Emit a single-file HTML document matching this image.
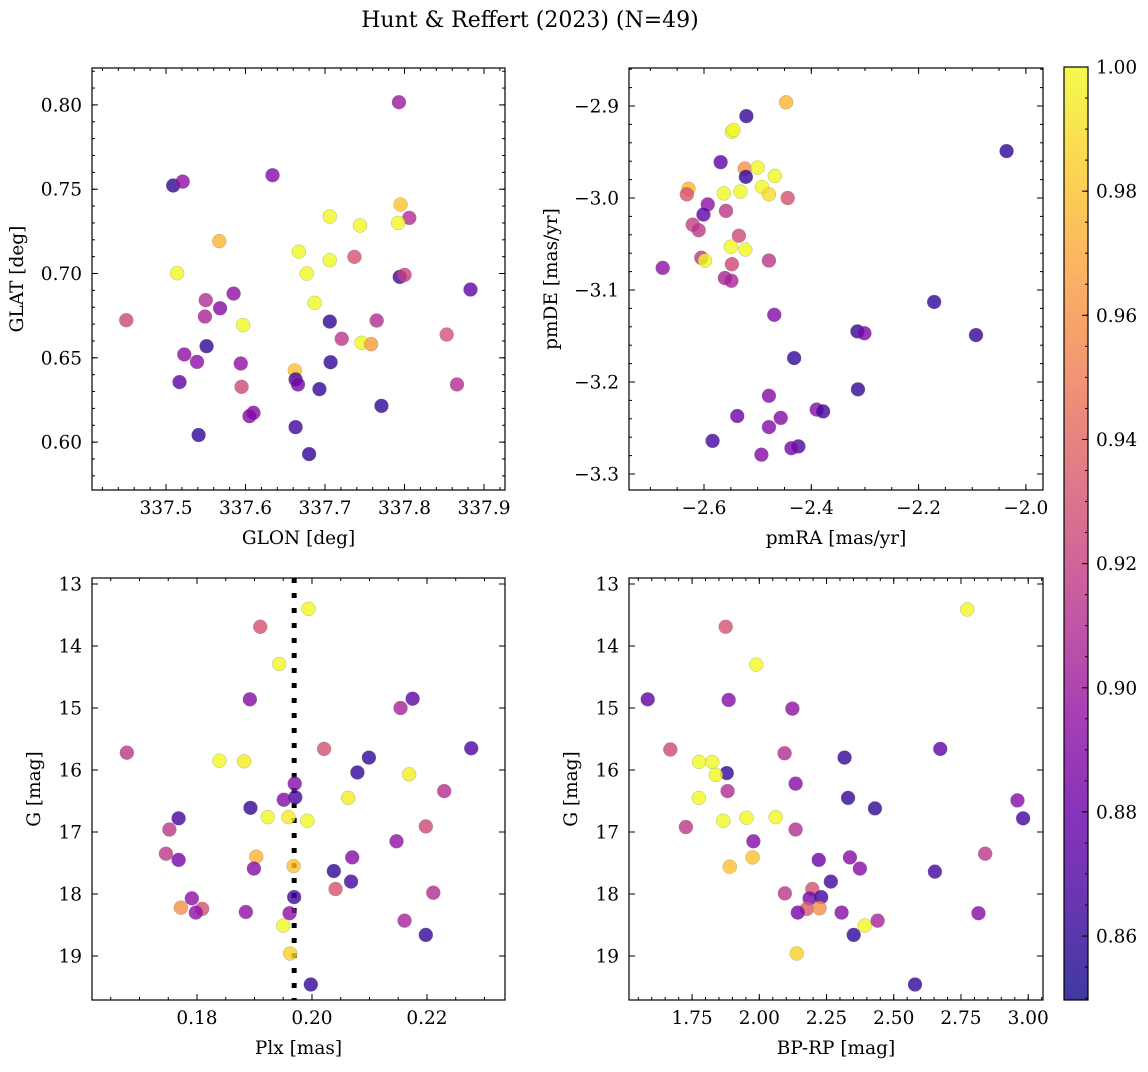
<!DOCTYPE html>
<html><head><meta charset="utf-8">
<style>
html,body{margin:0;padding:0;background:#fff;}
svg text{font-family:"DejaVu Serif","Liberation Serif",serif;fill:#000;}
</style></head>
<body>
<svg id="fig" xmlns="http://www.w3.org/2000/svg" width="1148" height="1067" viewBox="0 0 1148 1067">
<rect x="0" y="0" width="1148" height="1067" fill="#fff"/>
<text x="530" y="27" font-size="22" text-anchor="middle">Hunt &amp; Reffert (2023) (N=49)</text>
</svg>
<script>
// ---- Panel 1: GLON / GLAT ----
const tlGlon=[337.793,337.509,337.521,337.634,337.795,337.806,337.706,337.744,337.792,337.567,337.667,337.706,337.737,337.514,337.677,337.794,337.800,337.883,337.550,337.585,337.568,337.549,337.687,337.450,337.597,337.706,337.765,337.721,337.746,337.758,337.853,337.551,337.523,337.539,337.594,337.707,337.662,337.663,337.666,337.517,337.595,337.693,337.866,337.771,337.610,337.605,337.663,337.541,337.680];
const tlGlat=[0.8016,0.7522,0.7545,0.7583,0.7409,0.7330,0.7338,0.7285,0.7300,0.7192,0.7130,0.7079,0.7099,0.7002,0.7000,0.6980,0.6992,0.6905,0.6842,0.6881,0.6794,0.6745,0.6826,0.6723,0.6694,0.6715,0.6721,0.6613,0.6589,0.6581,0.6638,0.6569,0.6520,0.6476,0.6466,0.6474,0.6425,0.6372,0.6342,0.6356,0.6328,0.6314,0.6342,0.6215,0.6174,0.6154,0.6089,0.6042,0.5929];
const tlProb=[0.90,0.86,0.895,0.89,0.98,0.91,1.0,1.0,1.0,0.975,1.0,1.0,0.93,1.0,1.0,0.865,0.92,0.875,0.91,0.895,0.89,0.905,1.0,0.925,1.0,0.86,0.91,0.915,1.0,0.965,0.93,0.86,0.895,0.895,0.895,0.86,0.98,0.865,0.885,0.875,0.925,0.86,0.91,0.86,0.89,0.89,0.865,0.86,0.86];
// ---- Panel 2: pmRA / pmDE ----
const trPmra=[-2.447,-2.521,-2.548,-2.545,-2.036,-2.569,-2.524,-2.500,-2.522,-2.468,-2.629,-2.632,-2.563,-2.532,-2.492,-2.479,-2.444,-2.593,-2.601,-2.559,-2.621,-2.610,-2.535,-2.550,-2.523,-2.605,-2.598,-2.548,-2.479,-2.677,-2.561,-2.549,-2.171,-2.469,-2.314,-2.301,-2.093,-2.432,-2.313,-2.479,-2.390,-2.378,-2.538,-2.457,-2.479,-2.584,-2.424,-2.437,-2.493];
const trPmde=[-2.896,-2.911,-2.928,-2.926,-2.949,-2.961,-2.968,-2.967,-2.977,-2.976,-2.990,-2.996,-2.995,-2.993,-2.988,-2.996,-3.000,-3.007,-3.018,-3.014,-3.029,-3.035,-3.041,-3.053,-3.056,-3.065,-3.068,-3.072,-3.068,-3.076,-3.087,-3.090,-3.113,-3.127,-3.145,-3.147,-3.149,-3.174,-3.208,-3.215,-3.230,-3.232,-3.237,-3.239,-3.249,-3.264,-3.270,-3.272,-3.279];
const trProb=[0.975,0.86,1.0,1.0,0.86,0.875,0.96,1.0,0.86,1.0,0.975,0.93,1.0,1.0,1.0,0.99,0.93,0.895,0.875,0.915,0.92,0.915,0.925,1.0,1.0,0.915,1.0,0.925,0.915,0.895,0.905,0.905,0.86,0.89,0.86,0.885,0.86,0.86,0.86,0.89,0.89,0.865,0.88,0.89,0.89,0.865,0.87,0.885,0.89];
// ---- Panel 3: Plx / G ----
const blPlx=[0.1994,0.1910,0.1943,0.1892,0.2175,0.2154,0.1678,0.1839,0.1882,0.2021,0.2099,0.2277,0.2079,0.2169,0.1970,0.2230,0.1971,0.1951,0.2063,0.1893,0.1923,0.1959,0.1992,0.1768,0.1752,0.2198,0.2147,0.1746,0.1768,0.1903,0.2070,0.1968,0.1899,0.2038,0.2068,0.2041,0.2211,0.1969,0.1791,0.1772,0.1809,0.1798,0.1885,0.1961,0.1950,0.2161,0.2198,0.1962,0.1998];
const blG=[13.40,13.69,14.29,14.86,14.85,15.00,15.72,15.85,15.86,15.66,15.80,15.65,16.04,16.07,16.22,16.34,16.44,16.48,16.45,16.61,16.76,16.76,16.82,16.78,16.96,16.91,17.15,17.35,17.45,17.40,17.41,17.55,17.59,17.63,17.80,17.92,17.98,18.05,18.07,18.22,18.24,18.30,18.29,18.31,18.51,18.43,18.66,18.96,19.46];
const blProb=[1.0,0.93,1.0,0.89,0.875,0.905,0.915,1.0,0.995,0.93,0.86,0.87,0.86,0.995,0.89,0.91,0.865,0.89,0.995,0.86,1.0,0.995,1.0,0.865,0.915,0.925,0.895,0.915,0.885,0.975,0.89,0.98,0.89,0.86,0.865,0.93,0.91,0.865,0.895,0.96,0.93,0.895,0.895,0.895,1.0,0.905,0.86,0.985,0.86];
const plxRef=[0.1969];
// ---- Panel 4: BP-RP / G ----
const brColor=[2.773,1.875,1.989,1.585,1.886,2.123,1.669,2.094,2.317,2.673,1.776,1.825,1.879,1.838,2.135,1.882,1.775,2.330,2.430,2.960,2.981,1.866,1.952,2.061,1.727,2.135,1.978,2.840,1.975,2.221,2.337,1.890,2.374,2.653,2.266,2.095,2.197,2.187,2.230,2.177,2.224,2.143,2.306,2.815,2.392,2.440,2.351,2.139,2.579];
const brG=[13.41,13.69,14.30,14.86,14.87,15.01,15.67,15.73,15.80,15.66,15.87,15.87,16.05,16.08,16.22,16.34,16.45,16.45,16.62,16.49,16.78,16.82,16.77,16.76,16.92,16.96,17.15,17.35,17.41,17.45,17.41,17.56,17.59,17.64,17.80,17.99,17.92,18.07,18.05,18.24,18.23,18.30,18.30,18.31,18.51,18.43,18.66,18.96,19.46];
const brProb=[1.0,0.93,1.0,0.875,0.89,0.895,0.925,0.91,0.86,0.875,1.0,1.0,0.86,1.0,0.89,0.91,1.0,0.86,0.86,0.89,0.865,1.0,1.0,1.0,0.915,0.91,0.89,0.915,0.98,0.88,0.89,0.98,0.89,0.865,0.865,0.915,0.93,0.885,0.865,0.935,0.96,0.885,0.89,0.89,1.0,0.905,0.86,0.985,0.86];
// tick labels
const tlXTicks=[337.5,337.6,337.7,337.8,337.9];
const tlXLabels=["337.5","337.6","337.7","337.8","337.9"];
const tlYTicks=[0.60,0.65,0.70,0.75,0.80];
const tlYLabels=["0.60","0.65","0.70","0.75","0.80"];
const trXTicks=[-2.6,-2.4,-2.2,-2.0];
const trXLabels=["\u22122.6","\u22122.4","\u22122.2","\u22122.0"];
const trYTicks=[-3.3,-3.2,-3.1,-3.0,-2.9];
const trYLabels=["\u22123.3","\u22123.2","\u22123.1","\u22123.0","\u22122.9"];
const blXTicks=[0.18,0.20,0.22];
const blXLabels=["0.18","0.20","0.22"];
const gTicks=[13,14,15,16,17,18,19];
const gLabels=["13","14","15","16","17","18","19"];
const brXTicks=[1.75,2.00,2.25,2.50,2.75,3.00];
const brXLabels=["1.75","2.00","2.25","2.50","2.75","3.00"];
const cbTicks=[0.86,0.88,0.90,0.92,0.94,0.96,0.98,1.00];
const cbLabels=["0.86","0.88","0.90","0.92","0.94","0.96","0.98","1.00"];

const NS="http://www.w3.org/2000/svg";
const svg=document.getElementById('fig');
const VMIN=0.8497,VMAX=1.0;
const FS=18.5;
const plasma=[[13,8,135],[65,4,157],[106,0,168],[143,13,164],[177,42,144],[204,71,120],[225,100,98],[242,132,75],[252,166,54],[252,206,37],[240,249,33]];
function cmap(v){let t=(v-VMIN)/(VMAX-VMIN);t=Math.max(0,Math.min(1,t));const f=t*10;const i=Math.min(9,Math.floor(f));const u=f-i;const a=plasma[i],b=plasma[i+1];return 'rgb('+[0,1,2].map(k=>Math.round(a[k]+(b[k]-a[k])*u)).join(',')+')';}
function mk(tag,attrs,parent){const e=document.createElementNS(NS,tag);for(const k in attrs)e.setAttribute(k,attrs[k]);(parent||svg).appendChild(e);return e;}
function scale(d0,d1,r0,r1){return v=>r0+(v-d0)/(d1-d0)*(r1-r0);}

function panel(o){
  const g=mk('g',{});
  
  
  const sx=scale(o.xmin,o.xmax,o.L,o.R), sy=scale(o.ymin,o.ymax,o.B,o.T);
  const mg=mk('g',{stroke:'#000','stroke-width':1},g);
  
  
  for(let v=Math.ceil(o.xmin/o.xminor)*o.xminor;v<=o.xmax+1e-9;v+=o.xminor){const x=sx(v);mk('line',{x1:x,x2:x,y1:o.B,y2:o.B-3},mg);mk('line',{x1:x,x2:x,y1:o.T,y2:o.T+3},mg);}
  for(let v=Math.ceil(o.ymin/o.yminor)*o.yminor;v<=o.ymax+1e-9;v+=o.yminor){const y=sy(v);mk('line',{x1:o.L,x2:o.L+3,y1:y,y2:y},mg);mk('line',{x1:o.R,x2:o.R-3,y1:y,y2:y},mg);}
  o.xt.forEach((v,i)=>{const x=sx(v);mk('line',{x1:x,x2:x,y1:o.B,y2:o.B-6},mg);mk('line',{x1:x,x2:x,y1:o.T,y2:o.T+6},mg);
    const t=mk('text',{x:x,y:o.B+24,'font-size':FS,'text-anchor':'middle'},g);t.textContent=o.xl[i];
    
    });
  o.yt.forEach((v,i)=>{const y=sy(v);mk('line',{x1:o.L,x2:o.L+6,y1:y,y2:y},mg);mk('line',{x1:o.R,x2:o.R-6,y1:y,y2:y},mg);
    const t=mk('text',{x:o.L-10,y:y+6.5,'font-size':FS,'text-anchor':'end'},g);t.textContent=o.yl[i];
    
    });
  if(o.vline){o.vline.forEach(v=>{const l=mk('line',{x1:sx(v),x2:sx(v),y1:o.T,y2:o.B,stroke:'#000','stroke-width':5,'stroke-dasharray':'5,10'},g);
    
    });}
  const pg=mk('g',{},g);
  
  
  o.xs.forEach((xv,i)=>{const c=mk('circle',{cx:sx(xv),cy:sy(o.ys[i]),r:7,fill:cmap(o.ps[i]),'fill-opacity':0.8,stroke:'#777','stroke-opacity':0.5,'stroke-width':0.5},pg);
    
    });
  const fr=mk('rect',{x:o.L,y:o.T,width:o.R-o.L,height:o.B-o.T,fill:'none',stroke:'#000','stroke-width':1.2},g);
  
  
  const xl=mk('text',{x:(o.L+o.R)/2,y:o.B+54,'font-size':FS,'text-anchor':'middle'},g);xl.textContent=o.xlabel;
  
  
  const cy=(o.T+o.B)/2;
  const yl=mk('text',{x:o.ylx,y:cy,'font-size':FS,'text-anchor':'middle',transform:'rotate(-90 '+o.ylx+' '+cy+')'},g);yl.textContent=o.ylabel;
  
  
}
panel({name:'glon-glat-panel',L:92,R:505,T:68,B:490,xmin:337.4069,xmax:337.9264,ymin:0.5716,ymax:0.8219,xminor:0.02,yminor:0.01,xt:tlXTicks,xl:tlXLabels,yt:tlYTicks,yl:tlYLabels,xs:tlGlon,ys:tlGlat,ps:tlProb,xlabel:'GLON [deg]',ylabel:'GLAT [deg]',ylx:23});
panel({name:'proper-motion-panel',L:629,R:1043,T:68,B:490,xmin:-2.7398,xmax:-1.9681,ymin:-3.3174,ymax:-2.8587,xminor:0.05,yminor:0.02,xt:trXTicks,xl:trXLabels,yt:trYTicks,yl:trYLabels,xs:trPmra,ys:trPmde,ps:trProb,xlabel:'pmRA [mas/yr]',ylabel:'pmDE [mas/yr]',ylx:557});
panel({name:'parallax-magnitude-panel',L:92,R:505,T:578,B:1000,xmin:0.16174,xmax:0.23357,ymin:19.71,ymax:12.903,xminor:0.005,yminor:0.2,xt:blXTicks,xl:blXLabels,yt:gTicks,yl:gLabels,xs:blPlx,ys:blG,ps:blProb,xlabel:'Plx [mas]',ylabel:'G [mag]',ylx:40,vline:plxRef});
panel({name:'color-magnitude-panel',L:629,R:1043,T:578,B:1000,xmin:1.5154,xmax:3.0550,ymin:19.71,ymax:12.903,xminor:0.05,yminor:0.2,xt:brXTicks,xl:brXLabels,yt:gTicks,yl:gLabels,xs:brColor,ys:brG,ps:brProb,xlabel:'BP-RP [mag]',ylabel:'G [mag]',ylx:577});

// colorbar
(function(){
  const L=1064,R=1088,T=67,B=1000;
  const g=mk('g',{});
  
  
  const defs=mk('defs',{},g);
  const lg=mk('linearGradient',{id:'plg',x1:0,y1:1,x2:0,y2:0},defs);
  plasma.forEach((c,i)=>mk('stop',{offset:(i/10),'stop-color':'rgb('+c.join(',')+')','stop-opacity':0.8},lg));
  mk('rect',{x:L,y:T,width:R-L,height:B-T,fill:'#fff'},g);
  const r=mk('rect',{x:L,y:T,width:R-L,height:B-T,fill:'url(#plg)',stroke:'#000','stroke-width':1.2},g);
  
  
  const sy=scale(VMIN,VMAX,B,T);
  for(let v=0.85;v<=1.0001;v+=0.005){const y=sy(v);mk('line',{x1:R,x2:R-3,y1:y,y2:y,stroke:'#000'},g);}
  cbTicks.forEach((v,i)=>{const y=sy(v);mk('line',{x1:R,x2:R-6,y1:y,y2:y,stroke:'#000'},g);
    const t=mk('text',{x:R+8,y:y+6.5,'font-size':FS},g);t.textContent=cbLabels[i];
    
    });
})();
</script>
</body></html>
